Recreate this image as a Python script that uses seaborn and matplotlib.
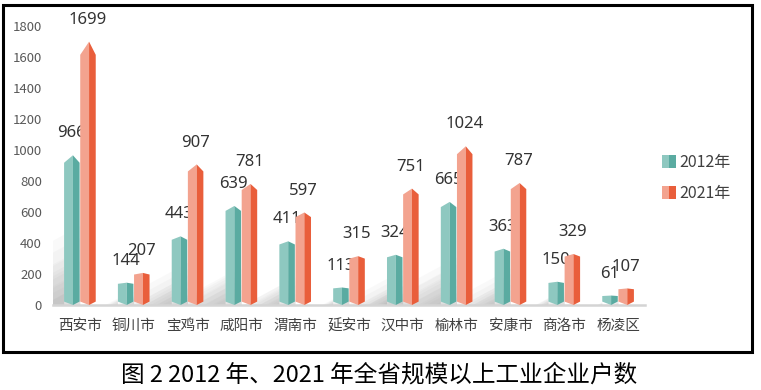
import pandas as pd
import matplotlib
matplotlib.use("Agg")
import matplotlib.pyplot as plt
import seaborn as sns
from matplotlib.patches import Polygon, Patch, Rectangle
from matplotlib.legend_handler import HandlerTuple

# data
cities = ["西安市", "铜川市", "宝鸡市", "咸阳市", "渭南市", "延安市",
          "汉中市", "榆林市", "安康市", "商洛市", "杨凌区"]
y2012 = [966, 144, 443, 639, 411, 113, 324, 665, 363, 150, 61]
y2021 = [1699, 207, 907, 781, 597, 315, 751, 1024, 787, 329, 107]
years = ["2012年", "2021年"]
yticks = list(range(0, 1801, 200))
caption = "图 2 2012 年、2021 年全省规模以上工业企业户数"

light = ["#8ec8c0", "#f3a38f"]
dark = ["#5aaba1", "#e95e3b"]

df = pd.DataFrame({
    "city": cities * 2,
    "count": y2012 + y2021,
    "year": [years[0]] * len(cities) + [years[1]] * len(cities),
})

sns.set_theme(style="white")
plt.rcParams["font.family"] = ["Noto Sans CJK SC", "DejaVu Sans"]

fig = plt.figure(figsize=(7.61, 3.90), dpi=100)
ax = fig.add_axes([53 / 761, 85 / 390, 592 / 761, 279 / 390])

sns.barplot(data=df, x="city", y="count", hue="year", hue_order=years,
            palette=light, width=0.6, gap=0.04, errorbar=None,
            legend=False, ax=ax)

# turn the flat bars into the prism look of the original
for k, cont in enumerate(ax.containers):
    for bar in cont:
        x0, w, h = bar.get_x(), bar.get_width(), bar.get_height()
        bar.set_visible(False)
        xm = x0 + w * 0.57
        sh = h * 0.95
        b = 22
        ax.add_patch(Polygon([(x0, b), (xm, 0), (xm, h), (x0, sh)],
                             fc=light[k], ec="none", zorder=3, clip_on=False))
        ax.add_patch(Polygon([(xm, 0), (x0 + w, b), (x0 + w, sh), (xm, h)],
                             fc=dark[k], ec="none", zorder=3, clip_on=False))
        # soft shadow to the lower left
        for s in [1.0, 0.85, 0.7, 0.55, 0.4, 0.25]:
            ax.add_patch(Polygon([(x0, 0), (x0, 0.3 * h * s),
                                  (x0 - 0.0016 * h * s, 0)],
                                 fc="#808080", ec="none", alpha=0.045,
                                 zorder=1))
        ax.annotate(f"{h:.0f}", (x0 + w / 2, h), xytext=(0, 10),
                    textcoords="offset points", ha="center", va="bottom",
                    fontsize=12, color="#333333", annotation_clip=False,
                    family=["Noto Sans", "DejaVu Sans"])

ax.set_ylim(0, 1800)
ax.set_yticks(yticks)
ax.set_xlabel("")
ax.set_ylabel("")
for side in ["left", "top", "right"]:
    ax.spines[side].set_visible(False)
ax.spines["bottom"].set_color("#d4d4d4")
ax.spines["bottom"].set_linewidth(1.8)
ax.tick_params(axis="y", length=0, pad=8, labelsize=9.5, labelcolor="#595959")
ax.tick_params(axis="x", length=0, pad=10, labelsize=10.5, labelcolor="#404040")

handles = [(Patch(fc=light[i], ec="none"), Patch(fc=dark[i], ec="none"))
           for i in range(2)]
ax.legend(handles, years, handler_map={tuple: HandlerTuple(ndivide=None, pad=0)},
          loc="center left", bbox_to_anchor=(1.005, 0.455), frameon=False,
          fontsize=11.5, handlelength=0.85, handleheight=0.85,
          handletextpad=0.2, labelspacing=0.85, labelcolor="#404040")

# frame round the chart and the caption below it
fig.patches.append(Rectangle((3 / 761, 1 - 352 / 390), 749 / 761, 347 / 390,
                             transform=fig.transFigure, fill=False,
                             ec="black", lw=2.2))
fig.text(379 / 761, 1 - 375 / 390, caption, ha="center", va="center",
         fontsize=17, color="black")

fig.savefig("out.png", dpi=100)
